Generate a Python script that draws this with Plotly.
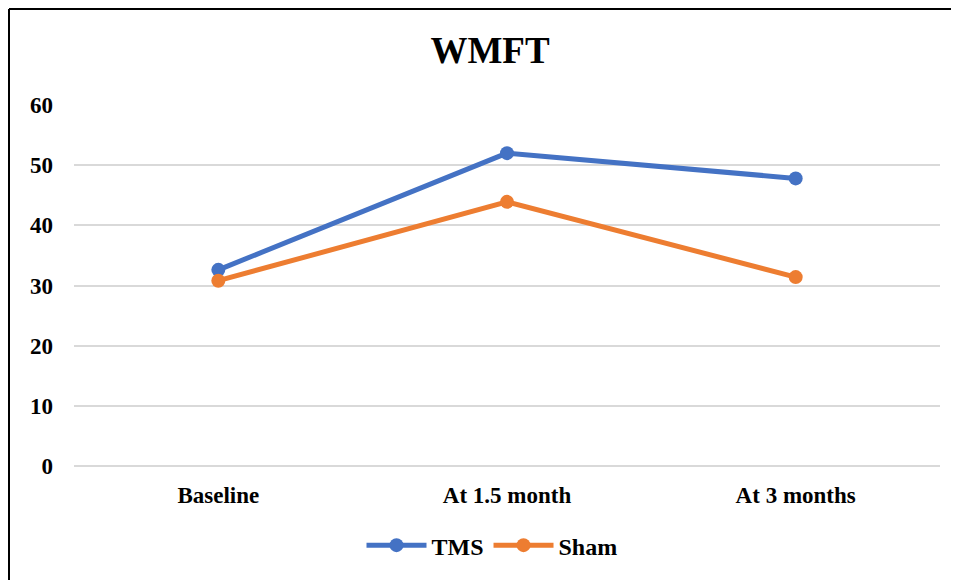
import plotly.graph_objects as go

categories = ["Baseline", "At 1.5 month", "At 3 months"]
tms = [32.6, 52.0, 47.8]
sham = [30.8, 43.9, 31.4]
y_ticks = [0, 10, 20, 30, 40, 50, 60]

# page body has an 8px margin, so the figure starts at (8, 8) in the window
OFF = 8
W, H = 959 - OFF, 580 - OFF
L = 74 - OFF
T = 105 - OFF
R = W - (940 - OFF)
B = H - (468 - OFF)
pw, ph = W - L - R, H - T - B

def px2paper_x(px):
    return (px - OFF - L) / pw

def px2paper_y(py):
    return (H - B - (py - OFF)) / ph

font = "Liberation Serif, Times New Roman, serif"

fig = go.Figure()
fig.add_trace(go.Scatter(x=categories, y=tms, name="TMS", mode="lines+markers",
                         line=dict(color="#4472C4", width=5),
                         marker=dict(size=14, color="#4472C4")))
fig.add_trace(go.Scatter(x=categories, y=sham, name="Sham", mode="lines+markers",
                         line=dict(color="#ED7D31", width=5),
                         marker=dict(size=14, color="#ED7D31")))

fig.update_layout(
    width=W, height=H,
    margin=dict(l=L, r=R, t=T, b=B),
    paper_bgcolor="white", plot_bgcolor="white",
    font=dict(family=font, size=23, color="black"),
    title=dict(text="<b>WMFT</b>", x=(490 - OFF) / W, xanchor="center",
               y=1 - (50 - OFF) / H, yanchor="middle",
               font=dict(family=font, size=37, color="black")),
    xaxis=dict(range=[-0.5, 2.5], showgrid=False, showline=False, zeroline=False,
               ticks="", ticklabelstandoff=13,
               tickfont=dict(family=font, size=23, color="black", weight="bold")),
    yaxis=dict(range=[0, 60], tickvals=y_ticks, showgrid=True, gridcolor="#D9D9D9", gridwidth=1.5,
               zeroline=True, zerolinecolor="#D9D9D9", zerolinewidth=1.5,
               showline=False, ticks="", ticklabelstandoff=20,
               tickfont=dict(family=font, size=23, color="black", weight="bold")),
    legend=dict(orientation="h", x=px2paper_x(492), xanchor="center", y=px2paper_y(548), yanchor="middle",
                font=dict(family=font, size=24, color="black", weight="bold"),
                itemwidth=60, tracegroupgap=0),
    showlegend=True,
)

# chart frame: only the top and left edges are visible in the window
fig.add_shape(type="line", xref="paper", yref="paper",
              x0=px2paper_x(9), x1=px2paper_x(975), y0=px2paper_y(8.5), y1=px2paper_y(8.5),
              line=dict(color="black", width=2), layer="above")
fig.add_shape(type="line", xref="paper", yref="paper",
              x0=px2paper_x(9), x1=px2paper_x(9), y0=px2paper_y(8.5), y1=px2paper_y(600),
              line=dict(color="black", width=2), layer="above")

# hide the page scrollbar that the slight overflow would otherwise show
fig.write_html("out.html", post_script="document.documentElement.style.overflow='hidden';")
